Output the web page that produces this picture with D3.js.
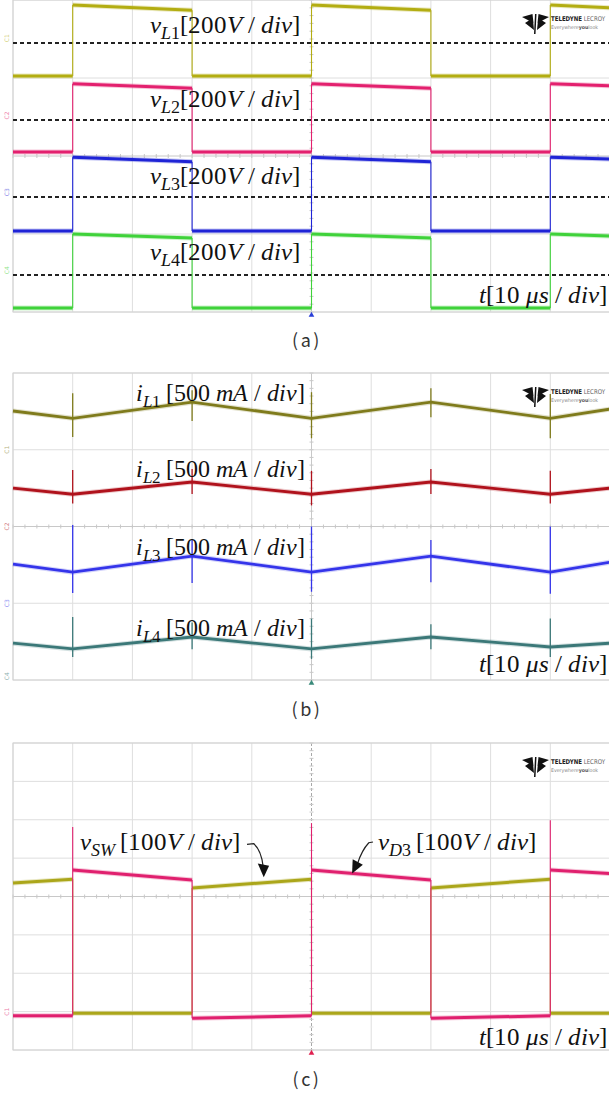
<!DOCTYPE html>
<html>
<head>
<meta charset="utf-8">
<script src="https://cdn.jsdelivr.net/npm/d3@7"></script>
<style>
  body { margin: 0; background: #fff; }
  svg { display: block; }
  @font-face { font-family: "SerifX"; src: local("Liberation Serif"), local("LiberationSerif"); font-style: normal; font-weight: 400; }
  @font-face { font-family: "SerifX"; src: local("Liberation Serif Italic"), local("LiberationSerif-Italic"); font-style: italic; font-weight: 400; }
</style>
</head>
<body>
<div id="chart"></div>
<script>
// time axis: 10 div x 10 us, switching instants in us
const timeDomain = [0, 100];
const switchTimes = [0, 10, 30, 50, 70, 90, 100];

// (a) inductor voltages, [start, end] level of each interval, in divisions
const vL1 = [[6.05, 6.05], [7.87, 7.74], [6.05, 6.05], [7.87, 7.74], [6.05, 6.05], [7.87, 7.80]];
const vL2 = [[4.10, 4.10], [5.85, 5.74], [4.10, 4.10], [5.85, 5.74], [4.10, 4.10], [5.85, 5.80]];
const vL3 = [[2.08, 2.08], [3.97, 3.85], [2.08, 2.08], [3.97, 3.85], [2.08, 2.08], [3.97, 3.92]];
const vL4 = [[0.10, 0.10], [2.00, 1.90], [0.10, 0.10], [2.00, 1.90], [0.10, 0.10], [2.00, 1.95]];
const refLevelsA = [6.90, 4.92, 2.95, 0.95];

// (b) inductor currents at the switching instants, in divisions
const iL1 = [7.01, 6.82, 7.24, 6.82, 7.24, 6.82, 7.06];
const iL2 = [5.00, 4.84, 5.16, 4.84, 5.16, 4.84, 5.00];
const iL3 = [3.02, 2.81, 3.23, 2.81, 3.23, 2.81, 3.07];
const iL4 = [0.96, 0.81, 1.12, 0.81, 1.12, 0.86, 0.96];
// switching spikes [top, bottom] at t = 10, 30, 50, 70, 90
const iL1Spikes = [[7.47, 6.33], [7.55, 6.75], [7.50, 6.30], [7.60, 6.85], [7.45, 6.30]];
const iL2Spikes = [[5.47, 4.60], [5.50, 4.85], [5.45, 4.55], [5.50, 4.85], [5.45, 4.60]];
const iL3Spikes = [[4.04, 2.27], [3.65, 2.53], [4.00, 2.30], [3.65, 2.55], [4.00, 2.25]];
const iL4Spikes = [[1.64, 0.60], [1.50, 0.80], [1.60, 0.55], [1.45, 0.80], [1.60, 0.60]];

// (c) switch and diode voltages, [start, end] of each interval, in divisions
const vSW = [[4.35, 4.45], [0.96, 0.96], [4.22, 4.45], [0.96, 0.96], [4.22, 4.45], [0.96, 0.96]];
const vD3 = [[0.89, 0.89], [4.69, 4.43], [0.83, 0.89], [4.69, 4.43], [0.83, 0.89], [4.69, 4.60]];
const vD3EdgeTops = [5.81, null, 5.91, null, 5.99];

const gridRowsCoarse = [0, 2, 4, 6, 8];
const gridRowsFine = [0, 1, 2, 3, 4, 5, 6, 7, 8];

const width = 609, height = 1094;
const left = 13, right = 610;

const svg = d3.select("#chart").append("svg")
    .attr("width", width)
    .attr("height", height);

const x = d3.scaleLinear().domain(timeDomain).range([left, right]);

const serif = "SerifX, 'Liberation Serif', 'Times New Roman', serif";

function makePanel(top, bottom, rows, trigColor, dashedCentre) {
    const y = d3.scaleLinear().domain([0, 8]).range([bottom, top]);
    const g = svg.append("g");
    const grid = g.append("g");

    // vertical grid
    grid.selectAll(".vg")
        .data(x.ticks(10))
        .enter().append("line")
        .attr("x1", d => x(d)).attr("x2", d => x(d))
        .attr("y1", top).attr("y2", bottom)
        .attr("stroke", d => d === 50 ? (dashedCentre ? "#a8a8a8" : "#c8c8c8") : "#dedede")
        .attr("stroke-dasharray", d => d === 50 && dashedCentre ? "3,2" : null)
        .attr("stroke-width", 1);

    // horizontal grid
    grid.selectAll(".hg")
        .data(rows)
        .enter().append("line")
        .attr("x1", left).attr("x2", right)
        .attr("y1", d => y(d)).attr("y2", d => y(d))
        .attr("stroke", d => d === 4 ? "#c8c8c8" : "#dedede")
        .attr("stroke-width", 1);

    // minor ticks along the centre lines
    grid.selectAll(".mt")
        .data(d3.range(0, 100.01, 2))
        .enter().append("line")
        .attr("x1", d => x(d)).attr("x2", d => x(d))
        .attr("y1", y(4) - 2).attr("y2", y(4) + 2)
        .attr("stroke", "#c8c8c8");
    grid.selectAll(".mtv")
        .data(d3.range(0, 8.01, 0.2))
        .enter().append("line")
        .attr("x1", x(50) - 2).attr("x2", x(50) + 2)
        .attr("y1", d => y(d)).attr("y2", d => y(d))
        .attr("stroke", "#c8c8c8");

    // frame
    g.append("rect")
        .attr("x", left).attr("y", top)
        .attr("width", right - left).attr("height", bottom - top)
        .attr("fill", "none")
        .attr("stroke", "#d2d2d2");

    // trigger marker
    g.append("path")
        .attr("d", d3.symbol(d3.symbolTriangle, 14)())
        .attr("transform", `translate(${x(50)},${bottom + 3})`)
        .attr("fill", trigColor);

    drawLogo(g, 522, top + 14);
    return { g, y };
}

function drawLogo(g, lx, ly) {
    const logo = g.append("g").attr("transform", `translate(${lx},${ly})`);
    logo.append("path")
        .attr("d", "M0,3 L10.5,0 L11.5,9 Z M3,9 L10.8,4 L12,16 Z M13,0 L12,20 L13.5,20 L14.5,0 Z M27,3 L16.5,0 L15.5,9 Z M24,9 L16.2,4 L15,16 Z")
        .attr("fill", "#111");
    logo.append("text")
        .attr("x", 29).attr("y", 7)
        .attr("font-family", "'DejaVu Sans Condensed', 'DejaVu Sans', sans-serif")
        .attr("font-size", 6.5)
        .attr("textLength", 54).attr("lengthAdjust", "spacingAndGlyphs")
        .attr("fill", "#222")
        .call(t => {
            t.append("tspan").attr("font-weight", "bold").text("TELEDYNE");
            t.append("tspan").attr("fill", "#666").text(" LECROY");
        });
    logo.append("text")
        .attr("x", 29).attr("y", 15)
        .attr("font-family", "'DejaVu Sans Condensed', 'DejaVu Sans', sans-serif")
        .attr("font-size", 5)
        .attr("textLength", 47).attr("lengthAdjust", "spacingAndGlyphs")
        .attr("fill", "#888")
        .call(t => {
            t.append("tspan").text("Everywhere");
            t.append("tspan").attr("font-weight", "bold").attr("fill", "#555").text("you");
            t.append("tspan").text("look");
        });
}

// step waveform: thick levels, thin edges
function drawStep(g, y, segs, color, edgeTops) {
    const tr = g.append("g");
    tr.selectAll(".lvl-halo")
        .data(segs)
        .enter().append("line")
        .attr("x1", (d, i) => x(switchTimes[i])).attr("x2", (d, i) => x(switchTimes[i + 1]))
        .attr("y1", d => y(d[0])).attr("y2", d => y(d[1]))
        .attr("stroke", color).attr("stroke-width", 5).attr("opacity", 0.25);
    tr.selectAll(".lvl")
        .data(segs)
        .enter().append("line")
        .attr("x1", (d, i) => x(switchTimes[i])).attr("x2", (d, i) => x(switchTimes[i + 1]))
        .attr("y1", d => y(d[0])).attr("y2", d => y(d[1]))
        .attr("stroke", color).attr("stroke-width", 3);
    const edges = segs.slice(1).map((d, i) => {
        const a = segs[i][1], b = d[0];
        let hi = Math.max(a, b);
        if (edgeTops && edgeTops[i] != null) hi = Math.max(hi, edgeTops[i]);
        return { t: switchTimes[i + 1], lo: Math.min(a, b), hi };
    });
    tr.selectAll(".edge")
        .data(edges)
        .enter().append("line")
        .attr("x1", d => x(d.t)).attr("x2", d => x(d.t))
        .attr("y1", d => y(d.hi)).attr("y2", d => y(d.lo))
        .attr("stroke", color).attr("stroke-width", 1.1);
}

function drawRamp(g, y, vals, spikes, color) {
    const line = d3.line().x((d, i) => x(switchTimes[i])).y(d => y(d));
    g.append("path").datum(vals)
        .attr("d", line).attr("fill", "none")
        .attr("stroke", color).attr("stroke-width", 5).attr("opacity", 0.22);
    g.append("path").datum(vals)
        .attr("d", line).attr("fill", "none")
        .attr("stroke", color).attr("stroke-width", 2.8);
    g.selectAll(null)
        .data(spikes)
        .enter().append("line")
        .attr("x1", (d, i) => x(switchTimes[i + 1])).attr("x2", (d, i) => x(switchTimes[i + 1]))
        .attr("y1", d => y(d[0])).attr("y2", d => y(d[1]))
        .attr("stroke", color).attr("stroke-width", 1.3);
}

// label like  v_L1 [200 V / div]
function varLabel(g, px, py, anchor, main, sub, gap, parts, size = 25) {
    const t = g.append("text")
        .attr("x", px).attr("y", py)
        .attr("text-anchor", anchor)
        .attr("font-family", serif)
        .attr("font-size", size)
        .attr("fill", "#111");
    t.append("tspan").attr("font-style", "italic").text(main);
    if (sub) {
        t.append("tspan").attr("font-size", size * 0.72).attr("dy", 6)
            .call(s => {
                s.append("tspan").attr("font-style", "italic").text(sub[0]);
                s.append("tspan").text(sub[1]);
            });
    }
    const first = t.append("tspan");
    if (sub) first.attr("dy", -6);
    first.text((gap ? "\u2009" : "") + "[");
    parts.forEach(p => {
        t.append("tspan").attr("font-style", p[1] ? "italic" : "normal").text(p[0]);
    });
    t.append("tspan").text("]");
}

function caption(cy, txt) {
    svg.append("text")
        .attr("x", 307).attr("y", cy)
        .attr("text-anchor", "middle")
        .attr("dominant-baseline", "middle")
        .attr("font-family", "'Noto Sans CJK KR', 'Noto Sans', sans-serif")
        .attr("font-size", 18)
        .attr("letter-spacing", 2.5)
        .attr("fill", "#333")
        .text(txt);
}

function channelMarks(g, y, levels, colors) {
    g.selectAll(null)
        .data(levels)
        .enter().append("text")
        .attr("transform", d => `translate(9,${y(d)}) rotate(-90)`)
        .attr("text-anchor", "middle")
        .attr("font-family", "'DejaVu Sans', sans-serif")
        .attr("font-size", 6)
        .attr("fill", (d, i) => colors[i])
        .attr("opacity", 0.6)
        .text((d, i) => "C" + (i + 1));
}

const timeParts = [["10 ", false], ["\u03bcs", true], [" / ", false], ["div", true]];

// ---------- panel (a) ----------
const A = makePanel(0, 312, gridRowsCoarse, "#2a3fd8", false);
const colA = ["#b3ad12", "#e3206e", "#1f24d6", "#3fd23a"];
A.g.selectAll(".ref")
    .data(refLevelsA)
    .enter().append("line")
    .attr("x1", left).attr("x2", right)
    .attr("y1", d => A.y(d)).attr("y2", d => A.y(d))
    .attr("stroke", "#222").attr("stroke-width", 2)
    .attr("stroke-dasharray", "4,3");
channelMarks(A.g, A.y, refLevelsA.map(d => d + 0.12), colA);
[vL1, vL2, vL3, vL4].forEach((s, i) => drawStep(A.g, A.y, s, colA[i]));
const aBase = [7.15, 5.26, 3.28, 1.33];
aBase.forEach((b, i) => varLabel(A.g, x(48.1), A.y(b), "end", "v", ["L", String(i + 1)], false,
    [["200", false], ["V", true], [" / ", false], ["div", true]]));
varLabel(A.g, x(99.5), A.y(0.23), "end", "t", null, false, timeParts);
caption(342, "(a)");

// ---------- panel (b) ----------
const B = makePanel(373, 680, gridRowsCoarse, "#3a8a7a", false);
const colB = ["#7f7b1c", "#b0121c", "#3434ea", "#3b7878"];
channelMarks(B.g, B.y, [6.0, 4.0, 2.0, 0.1], colB);
drawRamp(B.g, B.y, iL1, iL1Spikes, colB[0]);
drawRamp(B.g, B.y, iL2, iL2Spikes, colB[1]);
drawRamp(B.g, B.y, iL3, iL3Spikes, colB[2]);
drawRamp(B.g, B.y, iL4, iL4Spikes, colB[3]);
const bBase = [7.27, 5.29, 3.26, 1.15];
bBase.forEach((b, i) => varLabel(B.g, x(48.9), B.y(b), "end", "i", ["L", String(i + 1)], true,
    [["500 ", false], ["mA", true], [" / ", false], ["div", true]], 24));
varLabel(B.g, x(99.5), B.y(0.21), "end", "t", null, false, timeParts);
caption(711, "(b)");

// ---------- panel (c) ----------
const C = makePanel(743, 1050, gridRowsFine, "#e02050", true);
const colC = ["#aba61a", "#e0206e"];
channelMarks(C.g, C.y, [1.0], [colC[1]]);
drawStep(C.g, C.y, vSW, colC[0]);
drawStep(C.g, C.y, vD3, colC[1], vD3EdgeTops);
varLabel(C.g, x(11.2), C.y(5.21), "start", "v", ["SW", ""], true,
    [["100", false], ["V", true], [" / ", false], ["div", true]]);
varLabel(C.g, x(61.1), C.y(5.21), "start", "v", ["D", "3"], true,
    [["100", false], ["V", true], [" / ", false], ["div", true]]);
varLabel(C.g, x(99.5), C.y(0.13), "end", "t", null, false, timeParts);

// annotation arrows
const arrowW = C.g.append("g");
const pSW = d3.path();
pSW.moveTo(x(39.2), C.y(5.36));
pSW.lineTo(x(40.3), C.y(5.38));
pSW.quadraticCurveTo(x(41.6), C.y(5.2), x(41.9), C.y(4.78));
arrowW.append("path").attr("d", pSW.toString())
    .attr("fill", "none").attr("stroke", "#222").attr("stroke-width", 1.2);
arrowW.append("path")
    .attr("d", `M${x(41.0)},${C.y(4.86)} L${x(42.9)},${C.y(4.80)} L${x(42.0)},${C.y(4.5)} Z`)
    .attr("fill", "#111");

const pD3 = d3.path();
pD3.moveTo(x(60.3), C.y(5.42));
pD3.lineTo(x(59.6), C.y(5.40));
pD3.quadraticCurveTo(x(58.4), C.y(5.2), x(57.7), C.y(4.85));
arrowW.append("path").attr("d", pD3.toString())
    .attr("fill", "none").attr("stroke", "#222").attr("stroke-width", 1.2);
arrowW.append("path")
    .attr("d", `M${x(56.9)},${C.y(4.97)} L${x(58.6)},${C.y(4.83)} L${x(56.8)},${C.y(4.6)} Z`)
    .attr("fill", "#111");

caption(1081, "(c)");
</script>
</body>
</html>
